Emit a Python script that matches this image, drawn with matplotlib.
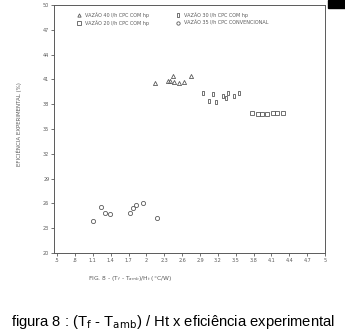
import matplotlib.pyplot as plt
import numpy as np

# data
x40 = [2.15, 2.37, 2.40, 2.45, 2.47, 2.55, 2.63, 2.75]
y40 = [40.6, 40.8, 40.8, 41.4, 40.7, 40.6, 40.7, 41.4]

x30 = [2.95, 3.05, 3.12, 3.17, 3.28, 3.33, 3.37, 3.47, 3.55]
y30 = [39.3, 38.4, 39.2, 38.3, 39.0, 38.7, 39.3, 39.0, 39.3]

x20 = [3.78, 3.87, 3.95, 4.03, 4.12, 4.20, 4.30]
y20 = [36.9, 36.8, 36.8, 36.8, 36.9, 36.9, 36.9]

x35 = [1.10, 1.23, 1.30, 1.38, 1.72, 1.78, 1.82, 1.95, 2.17]
y35 = [23.9, 25.6, 24.8, 24.7, 24.8, 25.4, 25.8, 26.0, 24.2]

labels = ['VAZÃO 40 l/h CPC COM hp', 'VAZÃO 30 l/h CPC COM hp',
          'VAZÃO 20 l/h CPC COM hp', 'VAZÃO 35 l/h CPC CONVENCIONAL']

xticks = [0.5, 0.8, 1.1, 1.4, 1.7, 2.0, 2.3, 2.6, 2.9, 3.2, 3.5, 3.8, 4.1, 4.4, 4.7, 5.0]
xticklabels = ['.5', '.8', '1.1', '1.4', '1.7', '2', '2.3', '2.6', '2.9', '3.2',
               '3.5', '3.8', '4.1', '4.4', '4.7', '5']
yticks = [20, 23, 26, 29, 32, 35, 38, 41, 44, 47, 50]

ink = '#5a5a5a'

fig = plt.figure(figsize=(3.45, 3.33), dpi=100)
ax = fig.add_axes([0.157, 0.240, 0.785, 0.745])

kw = dict(linestyle='none', color=ink, markerfacecolor='none', markeredgewidth=0.6)
h40, = ax.plot(x40, y40, marker='^', markersize=3, label=labels[0], **kw)
h30, = ax.plot(x30, y30, marker=r'$\mathbf{I}$', markersize=3.5, label=labels[1], **kw)
h20, = ax.plot(x20, y20, marker='s', markersize=3, label=labels[2], **kw)
h35, = ax.plot(x35, y35, marker='o', markersize=3, label=labels[3], **kw)

ax.set_xlim(0.45, 5.0)
ax.set_ylim(20, 50)
ax.set_xticks(xticks)
ax.set_xticklabels(xticklabels)
ax.set_yticks(yticks)
ax.tick_params(labelsize=3.5, colors=ink, length=2, width=0.6, pad=1.5)
for s in ax.spines.values():
    s.set_color(ink)
    s.set_linewidth(0.7)

ax.set_ylabel('EFICIÊNCIA EXPERIMENTAL (%)', fontsize=4, color=ink)
ax.set_xlabel(r'FIG. 8 - (T$_f$ - T$_{amb}$)/H$_t$ (°C/W)', fontsize=4.3, color=ink)
ax.xaxis.set_label_coords(0.125, -0.085)
ax.xaxis.label.set_ha('left')
ax.yaxis.set_label_coords(-0.12, 0.52)

# legend filled column-wise, so reorder to match the 2x2 layout of the scan
ax.legend([h40, h20, h30, h35], [labels[0], labels[2], labels[1], labels[3]],
          loc='upper left', ncol=2, fontsize=3.5, frameon=False, labelcolor=ink,
          handletextpad=0.2, columnspacing=5, markerscale=0.8,
          bbox_to_anchor=(0.06, 0.985), borderaxespad=0.3)

fig.text(0.502, 0.033, r'figura 8 : (T$_\mathrm{f}$ - T$_\mathrm{amb}$) / Ht x eficiência experimental',
         ha='center', va='center', fontsize=10.6, family='Liberation Sans')

# black block in the top right corner of the scan
fig.patches.append(plt.Rectangle((0.95, 0.975), 0.05, 0.025, transform=fig.transFigure,
                                 color='black'))

fig.savefig('out.png', dpi=100)
